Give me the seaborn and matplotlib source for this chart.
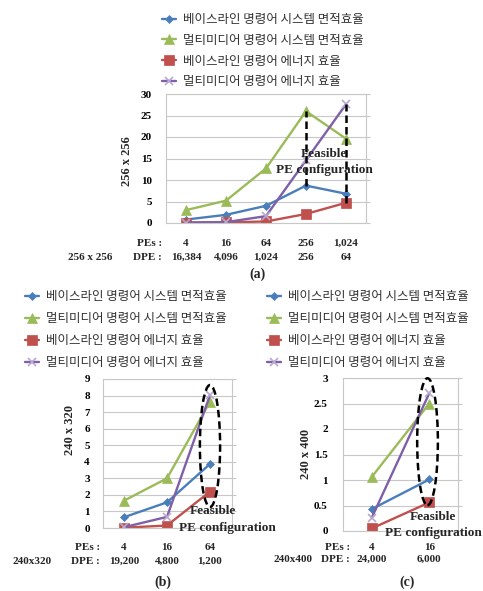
import numpy as np
import pandas as pd
import seaborn as sns
import matplotlib
matplotlib.use("Agg")
import matplotlib.pyplot as plt
from matplotlib.patches import Ellipse
from matplotlib.ticker import FuncFormatter, MultipleLocator
import matplotlib.transforms as mtrans

# ---------------- data ----------------
series_names = ['베이스라인 명령어 시스템 면적효율',
                '멀티미디어 명령어 시스템 면적효율',
                '베이스라인 명령어 에너지 효율',
                '멀티미디어 명령어 에너지 효율']

pes_a = ['4', '16', '64', '256', '1,024']
dpe_a = ['16,384', '4,096', '1,024', '256', '64']
a_base_area = [0.8, 1.9, 4.0, 8.7, 6.8]
a_mm_area = [3.0, 5.2, 12.7, 26.0, 19.6]
a_base_energy = [0.1, 0.15, 0.35, 2.1, 4.7]
a_mm_energy = [0.1, 0.2, 1.6, 14.6, 27.6]

pes_b = ['4', '16', '64']
dpe_b = ['19,200', '4,800', '1,200']
b_base_area = [0.65, 1.55, 3.87]
b_mm_area = [1.65, 3.0, 7.63]
b_base_energy = [0.02, 0.15, 2.2]
b_mm_energy = [0.05, 0.67, 8.03]

pes_c = ['4', '16']
dpe_c = ['24,000', '6,000']
c_base_area = [0.43, 1.01]
c_mm_area = [1.06, 2.5]
c_base_energy = [0.05, 0.56]
c_mm_energy = [0.26, 2.7]

# ---------------- style ----------------
sns.set_theme(style="white")
plt.rcParams['font.family'] = ['Liberation Serif', 'DejaVu Sans']

W, H = 483, 591
fig = plt.figure(figsize=(W / 100, H / 100), dpi=100)


def fx(x):
    return x / W


def fy(y):
    return 1 - y / H


colors = ['#4A7EBB', '#9BBB59', '#C0504D', '#7F5FA8']
markers = ['D', '^', 's', 'x']
msizes = [4.5, 6.5, 6.5, 6]
mecs = ['#4A7EBB', '#9BBB59', '#C0504D', '#B8A8D0']

SERIF = ['Liberation Serif', 'DejaVu Serif']
KR = ['Noto Sans CJK KR', 'DejaVu Sans']


def make_axes(box):
    l, t, r, b = box
    ax = fig.add_axes([fx(l), fy(b), (r - l) / W, (b - t) / H])
    return ax


def draw_panel(ax, series, ylim, ystep, ypad, fmt):
    n = len(series[0])
    x = np.arange(n)
    handles = []
    for vals, c, m, ms, mec in zip(series, colors, markers, msizes, mecs):
        df = pd.DataFrame({'x': x, 'y': vals})
        sns.lineplot(data=df, x='x', y='y', ax=ax, color=c, marker=m,
                     markersize=ms, linewidth=1.7, markeredgecolor=mec,
                     markerfacecolor=c, markeredgewidth=1.2 if m == 'x' else 0.5,
                     legend=False)
        handles.append(ax.lines[-1])
    ax.set_xlim(-0.5, n - 0.5)
    ax.set_ylim(*ylim)
    ax.yaxis.set_major_locator(MultipleLocator(ystep))
    ax.yaxis.set_major_formatter(FuncFormatter(fmt))
    ax.set_xticks([])
    ax.set_xlabel('')
    ax.set_ylabel('')
    ax.yaxis.grid(True, color='#C8C8C8', lw=0.8)
    ax.set_axisbelow(True)
    for s in ax.spines.values():
        s.set_visible(True)
        s.set_color('#C8C8C8')
        s.set_linewidth(0.8)
    ax.tick_params(axis='y', left=False, right=True, length=3, width=0.8,
                   color='#C8C8C8', direction='out', pad=ypad,
                   labelsize=8, labelcolor='black')
    for lab in ax.get_yticklabels():
        lab.set_fontweight('bold')
        lab.set_family(SERIF)
    return handles


def add_legend(ax, handles, left_px, top_px, spacing):
    leg = ax.legend(handles, series_names, loc='upper left',
                    bbox_to_anchor=(fx(left_px), fy(top_px)),
                    bbox_transform=fig.transFigure, frameon=False,
                    handlelength=1.1, handletextpad=0.6, borderpad=0,
                    borderaxespad=0, labelspacing=spacing,
                    prop={'family': KR, 'size': 9})
    for t in leg.get_texts():
        t.set_color('#333333')


def add_rows(ax, pes, dpe, y1, y2, lab_right, size_lab, size_x, size_y):
    tr = mtrans.blended_transform_factory(ax.transData, fig.transFigure)
    for i, (p, d) in enumerate(zip(pes, dpe)):
        ax.text(i, fy(y1), p, transform=tr, ha='center', va='center',
                fontsize=8, fontweight='bold', family=SERIF, clip_on=False)
        ax.text(i, fy(y2), d, transform=tr, ha='center', va='center',
                fontsize=8, fontweight='bold', family=SERIF, clip_on=False)
    fig.text(fx(lab_right), fy(y1), 'PEs :', ha='right', va='center',
             fontsize=8, fontweight='bold', family=SERIF)
    fig.text(fx(lab_right), fy(y2), 'DPE :', ha='right', va='center',
             fontsize=8, fontweight='bold', family=SERIF)
    fig.text(fx(size_x), fy(size_y), size_lab, ha='center', va='center',
             fontsize=8, fontweight='bold', family=SERIF)


def feasible(ax, x1, y1, x2, y2):
    ax.text(x1, y1, 'Feasible', ha='center', va='center', fontsize=9.5,
            fontweight='bold', family=SERIF, clip_on=False, zorder=6)
    ax.text(x2, y2, 'PE configuration', ha='center', va='center', fontsize=9.5,
            fontweight='bold', family=SERIF, clip_on=False, zorder=6)


fmt_int = lambda v, p: f'{v:g}'

# ---------------- panel (a) ----------------
axa = make_axes((166, 94, 366, 223))
ha = draw_panel(axa, [a_base_area, a_mm_area, a_base_energy, a_mm_energy],
                (0, 30), 5, 7, fmt_int)
add_legend(axa, ha, 162, 13, 0.62)
axa.vlines([3], a_base_area[3], a_mm_area[3], colors='black', lw=1.8,
           linestyles=(0, (3, 1.6)), zorder=5)
axa.vlines([4], a_base_energy[4], a_mm_energy[4], colors='black', lw=1.8,
           linestyles=(0, (3, 1.6)), zorder=5)
feasible(axa, 3.45, 16.0, 3.47, 12.3)
add_rows(axa, pes_a, dpe_a, 243, 257, 162, '256 x 256', 90, 257)
fig.text(fx(127), fy(161), '256 x 256', rotation=90, ha='center', va='center',
         fontsize=9, fontweight='bold', family=SERIF)
fig.text(fx(257), fy(274), '(a)', ha='center', va='center', fontsize=10,
         fontweight='bold', family=SERIF)

# ---------------- panel (b) ----------------
axb = make_axes((102.5, 379, 231.5, 528))
hb = draw_panel(axb, [b_base_area, b_mm_area, b_base_energy, b_mm_energy],
                (0, 9), 1, 6, fmt_int)
add_legend(axb, hb, 25, 290, 0.72)
axb.add_patch(Ellipse((2.0, 4.95), 0.47, 7.37, fill=False, ec='black', lw=1.8,
                      ls=(0, (3, 1.6)), zorder=5, clip_on=False))
feasible(axb, 2.07, 1.0, 2.4, 0.0)
add_rows(axb, pes_b, dpe_b, 547, 561, 100, '240x320', 32, 561)
fig.text(fx(70), fy(430), '240 x 320', rotation=90, ha='center', va='center',
         fontsize=9, fontweight='bold', family=SERIF)
fig.text(fx(163), fy(582), '(b)', ha='center', va='center', fontsize=10,
         fontweight='bold', family=SERIF)

# ---------------- panel (c) ----------------
axc = make_axes((343, 378, 458, 531))
hc = draw_panel(axc, [c_base_area, c_mm_area, c_base_energy, c_mm_energy],
                (0, 3), 0.5, 8, fmt_int)
add_legend(axc, hc, 267, 290, 0.72)
axc.add_patch(Ellipse((0.97, 1.75), 0.36, 2.49, fill=False, ec='black', lw=1.8,
                      ls=(0, (3, 1.6)), zorder=5, clip_on=False))
feasible(axc, 1.065, 0.27, 1.08, -0.04)
add_rows(axc, pes_c, dpe_c, 547, 559, 350, '240x400', 293, 559)
fig.text(fx(306), fy(454), '240 x 400', rotation=90, ha='center', va='center',
         fontsize=9, fontweight='bold', family=SERIF)
fig.text(fx(407), fy(582), '(c)', ha='center', va='center', fontsize=10,
         fontweight='bold', family=SERIF)

fig.savefig('out.png', dpi=100)
